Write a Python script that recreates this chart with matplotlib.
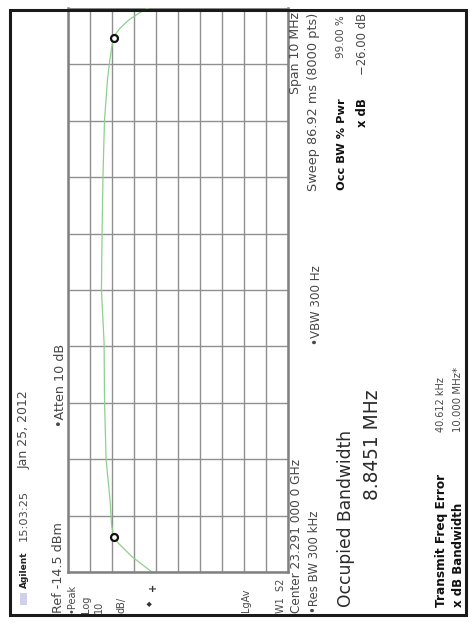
import numpy as np
import matplotlib
matplotlib.use("Agg")
import matplotlib.pyplot as plt
from matplotlib.patches import Rectangle

W, H = 472, 629

# trace: offset from centre (MHz) and level (dBm)
freq_mhz = [-5.0, -4.88, -4.73, -4.59, -4.48, -4.38, -4.16, -3.72, -3.0, -1.94,
            -0.93, 0.0, 1.03, 2.03, 3.02, 3.75, 4.04, 4.29, 4.5, 4.64, 4.79, 4.91, 5.0]
level_dbm = [-52.7, -48.6, -43.6, -40.0, -37.2, -35.2, -34.3, -33.6, -31.8, -31.1,
             -30.9, -29.7, -30.0, -30.4, -31.1, -32.5, -33.4, -34.3, -35.4, -38.1,
             -42.2, -46.8, -50.9]

# occupied bandwidth markers
marker_freq_mhz = [-4.38, 4.47]
marker_level_dbm = [-35.2, -35.3]

ref_level = -14.5
db_per_div = 10
span_mhz = 10

fig = plt.figure(figsize=(W / 100, H / 100), dpi=100)
fig.patch.set_facecolor("white")

# screen is rotated: amplitude runs left->right, frequency bottom->top
ax = fig.add_axes([68 / W, 1 - 572 / H, (288 - 68) / W, (572 - 8) / H])
ax.set_xlim(ref_level, ref_level - 10 * db_per_div)
ax.set_ylim(-span_mhz / 2, span_mhz / 2)
ax.set_xticks(np.arange(ref_level, ref_level - 10 * db_per_div - 0.1, -db_per_div))
ax.set_yticks(np.arange(-span_mhz / 2, span_mhz / 2 + 0.1, 1))
ax.grid(True, color="#8f8f8f", lw=1.0)
ax.tick_params(length=0, labelbottom=False, labelleft=False)
for side in ["left", "right", "bottom"]:
    ax.spines[side].set_color("#808080")
    ax.spines[side].set_linewidth(1.8)
ax.spines["top"].set_visible(False)

ax.plot(level_dbm, freq_mhz, color="#8ed08e", lw=0.9)
ax.plot(marker_level_dbm, marker_freq_mhz, "o", mfc="white", mec="#111111",
        ms=5, mew=1.6)

# outer frame of the screenshot
fig.add_artist(Rectangle((10 / W, 1 - 615 / H), (466 - 10) / W, (615 - 10) / H,
                         transform=fig.transFigure, fill=False,
                         ec="#1a1a1a", lw=2.2))
fig.add_artist(Rectangle((20 / W, 1 - 605 / H), 7 / W, 12 / H,
                         transform=fig.transFigure, fc="#d0d0ea", ec="none"))


def vtext(x, y, s, va="bottom", size=8.5, weight="normal", color="#484848"):
    fig.text(x / W, 1 - y / H, s, rotation=90, ha="center", va=va,
             fontsize=size, fontweight=weight, color=color)


vtext(24, 588, "Agilent", weight="bold", color="#222222", size=6.5)
vtext(24, 541, "15:03:25", size=8.2)
vtext(24, 390, "Jan 25, 2012", va="top", size=9)
vtext(58, 613, "Ref -14.5 dBm", size=9.2)
vtext(60, 427, "\u2022Atten 10 dB", size=9.2)
vtext(71, 613, "\u2022Peak", size=7)
vtext(86, 613, "Log", size=7)
vtext(99, 613, "10", size=7)
vtext(122, 613, "dB/", size=7)
vtext(150, 606, "\u25c6", size=5, color="#333333")
vtext(153, 591, "+", size=7, weight="bold", color="#333333")
vtext(246, 612, "LgAv", size=7)
vtext(281, 613, "W1  S2", size=7)
vtext(296, 613, "Center 23.291 000 0 GHz", size=8.7)
vtext(296, 12, "Span 10 MHz", va="top", size=9)
vtext(315, 613, "\u2022Res BW 300 kHz", size=8.5)
vtext(316, 345, "\u2022VBW 300 Hz", size=8.6)
vtext(314, 13, "Sweep 86.92 ms (8000 pts)", va="top", size=9.3)
vtext(342, 190, "Occ BW % Pwr", weight="bold", color="#111111", size=8.2)
vtext(341, 15, "99.00 %", va="top", size=7.5)
vtext(362, 127, "x dB", weight="bold", color="#111111", size=8.4)
vtext(362, 13, "\u221226.00 dB", va="top", size=8.4)
vtext(346, 607, "Occupied Bandwidth", size=12.3, color="#2a2a2a")
vtext(372, 500, "8.8451 MHz", size=13.4, color="#2a2a2a")
vtext(441, 607, "Transmit Freq Error", weight="bold", color="#111111", size=8.7)
vtext(441, 377, "40.612 kHz", va="top", size=7)
vtext(458, 607, "x dB Bandwidth", weight="bold", color="#111111", size=8.5)
vtext(458, 367, "10.000 MHz*", va="top", size=7.3)

fig.savefig("out.png", dpi=100)
